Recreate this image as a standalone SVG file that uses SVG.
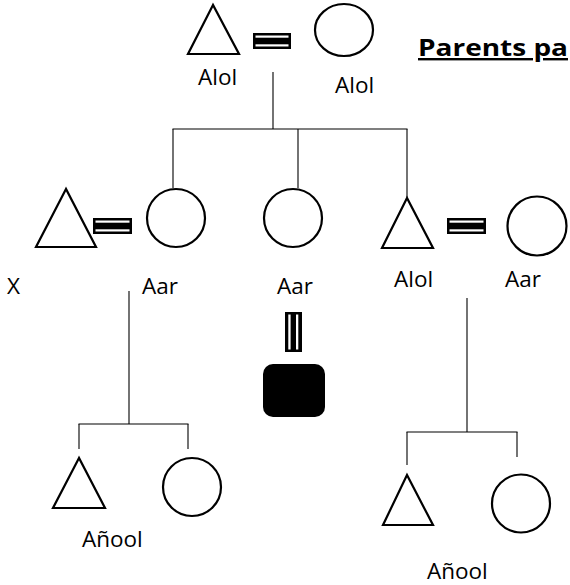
<svg xmlns="http://www.w3.org/2000/svg" width="570" height="585" viewBox="0 0 570 585">
<style>
.sh{fill:#fff;stroke:#000;stroke-width:2.2;stroke-linejoin:miter}
.ln{stroke:#000;stroke-width:1.1;fill:none}
.eq{fill:#000}
.st{fill:#fff}
.lb{font-family:"Open Sans","Liberation Sans",sans-serif;font-size:22.5px;fill:#000}
.tt{font-family:"Open Sans","Liberation Sans",sans-serif;font-size:24px;font-weight:bold;fill:#000;text-decoration:underline}
</style>
<rect width="570" height="585" fill="#fff"/>
<g id="connectors">
<line class="ln" x1="273" y1="72" x2="273" y2="129"/>
<line class="ln" x1="172.5" y1="129" x2="407.5" y2="129"/>
<line class="ln" x1="173" y1="129" x2="173" y2="188"/>
<line class="ln" x1="298" y1="129" x2="298" y2="188"/>
<line class="ln" x1="407" y1="129" x2="407" y2="197"/>
<line class="ln" x1="129" y1="291" x2="129" y2="424"/>
<line class="ln" x1="78.5" y1="424" x2="188.5" y2="424"/>
<line class="ln" x1="79" y1="424" x2="79" y2="449"/>
<line class="ln" x1="188" y1="424" x2="188" y2="449"/>
<line class="ln" x1="467" y1="298" x2="467" y2="432"/>
<line class="ln" x1="406.5" y1="432" x2="517.5" y2="432"/>
<line class="ln" x1="407" y1="432" x2="407" y2="465"/>
<line class="ln" x1="517" y1="432" x2="517" y2="457"/>
</g>
<g id="title"><text class="tt" x="418" y="56" textLength="150" lengthAdjust="spacingAndGlyphs">Parents pa</text></g>
<g id="gf-male">
<polygon class="sh" points="213,5 188,54 239,54"/>
<text class="lb" x="198" y="85">Alol</text>
</g>
<g id="gf-marriage">
<rect class="eq" x="253" y="33" width="38" height="16"/>
<rect class="st" x="255.5" y="35.5" width="33" height="2.2"/>
<rect class="st" x="255.5" y="44.3" width="33" height="2.2"/>
</g>
<g id="gf-female">
<ellipse class="sh" cx="344" cy="30" rx="29" ry="26"/>
<text class="lb" x="335" y="93">Alol</text>
</g>
<g id="x-male">
<polygon class="sh" points="66,189 36,247 96,247"/>
<text class="lb" x="7" y="294">X</text>
</g>
<g id="x-marriage">
<rect class="eq" x="93" y="218" width="39" height="16"/>
<rect class="st" x="95.5" y="220.5" width="34" height="2.2"/>
<rect class="st" x="95.5" y="229.3" width="34" height="2.2"/>
</g>
<g id="aar1">
<circle class="sh" cx="176" cy="218" r="29"/>
<text class="lb" x="142" y="294">Aar</text>
</g>
<g id="aar2">
<circle class="sh" cx="293" cy="218" r="29"/>
<text class="lb" x="277" y="294">Aar</text>
</g>
<g id="alol-male">
<polygon class="sh" points="407,198 382,248 433,248"/>
<text class="lb" x="394" y="287">Alol</text>
</g>
<g id="alol-marriage">
<rect class="eq" x="447" y="218" width="39" height="16"/>
<rect class="st" x="449.5" y="220.5" width="34" height="2.2"/>
<rect class="st" x="449.5" y="229.3" width="34" height="2.2"/>
</g>
<g id="aar3">
<circle class="sh" cx="537" cy="226" r="29.5"/>
<text class="lb" x="505" y="287">Aar</text>
</g>
<g id="aar2-union">
<rect class="eq" x="285" y="312" width="17" height="40"/>
<rect class="st" x="288.3" y="314.5" width="2.3" height="35"/>
<rect class="st" x="296" y="314.5" width="2.3" height="35"/>
</g>
<g id="aar2-child">
<rect x="263" y="364" width="62" height="53" rx="10" ry="10" fill="#000"/>
</g>
<g id="child-l-male">
<polygon class="sh" points="79,458 53,508 105,508"/>
<text class="lb" x="82" y="547">Añool</text>
</g>
<g id="child-l-female">
<circle class="sh" cx="192" cy="487" r="29"/>
</g>
<g id="child-r-male">
<polygon class="sh" points="407,475 383,525 433,525"/>
<text class="lb" x="427" y="579">Añool</text>
</g>
<g id="child-r-female">
<circle class="sh" cx="521" cy="503.5" r="29"/>
</g>
</svg>
